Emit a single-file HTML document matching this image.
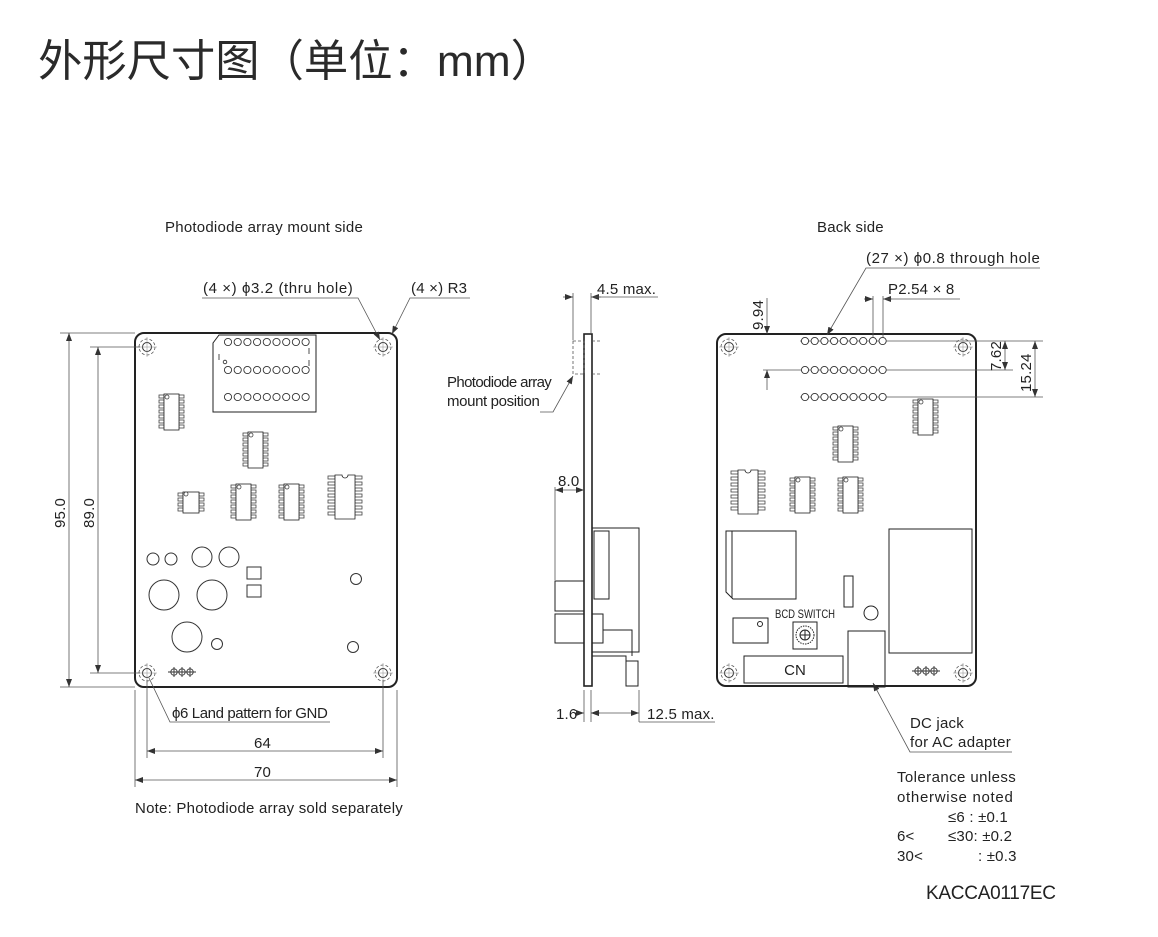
<!DOCTYPE html>
<html><head><meta charset="utf-8"><style>
html,body{margin:0;padding:0;background:#fff;}
svg{display:block;}
text{font-family:"Liberation Sans","DejaVu Sans",sans-serif;fill:#222;}
.t{font-size:15px;letter-spacing:0.2px;}
</style></head><body>
<svg width="1158" height="937" viewBox="0 0 1158 937" xmlns="http://www.w3.org/2000/svg">
<defs>
<marker id="ar" markerWidth="8" markerHeight="6" refX="8" refY="3" orient="auto-start-reverse" markerUnits="userSpaceOnUse"><path d="M0,0 L8,3 L0,6 z" fill="#333"/></marker>
<g id="hole"><circle r="4.5" fill="none" stroke="#333" stroke-width="1"/><circle r="8" fill="none" stroke="#555" stroke-width="0.8" stroke-dasharray="3,2"/><line x1="-10" y1="0" x2="10" y2="0" stroke="#888" stroke-width="0.5"/><line x1="0" y1="-10" x2="0" y2="10" stroke="#888" stroke-width="0.5"/></g>
<g id="soic" stroke="#444" fill="none" stroke-width="0.8">
<rect x="2" y="0" width="5" height="3"/><rect x="2" y="5" width="5" height="3"/><rect x="2" y="10" width="5" height="3"/><rect x="2" y="15" width="5" height="3"/><rect x="2" y="20" width="5" height="3"/><rect x="2" y="25" width="5" height="3"/><rect x="2" y="30" width="5" height="3"/>
<rect x="22" y="0" width="5" height="3"/><rect x="22" y="5" width="5" height="3"/><rect x="22" y="10" width="5" height="3"/><rect x="22" y="15" width="5" height="3"/><rect x="22" y="20" width="5" height="3"/><rect x="22" y="25" width="5" height="3"/><rect x="22" y="30" width="5" height="3"/>
<rect x="7" y="-1" width="15" height="36" fill="#fff" stroke="#222"/><circle cx="10" cy="2" r="2" fill="#fff"/></g>
<g id="so8" stroke="#444" fill="none" stroke-width="0.8">
<rect x="0" y="1" width="5" height="3"/><rect x="0" y="6" width="5" height="3"/><rect x="0" y="11" width="5" height="3"/><rect x="0" y="16" width="5" height="3"/>
<rect x="21" y="1" width="5" height="3"/><rect x="21" y="6" width="5" height="3"/><rect x="21" y="11" width="5" height="3"/><rect x="21" y="16" width="5" height="3"/>
<rect x="5" y="0" width="16" height="21" fill="#fff" stroke="#222"/><circle cx="8" cy="2" r="2" fill="#fff"/></g>
<g id="dip" stroke="#444" fill="none" stroke-width="0.8">
<rect x="0" y="1" width="7" height="3"/><rect x="0" y="7" width="7" height="3"/><rect x="0" y="13" width="7" height="3"/><rect x="0" y="19" width="7" height="3"/><rect x="0" y="25" width="7" height="3"/><rect x="0" y="31" width="7" height="3"/><rect x="0" y="37" width="7" height="3"/>
<rect x="27" y="1" width="7" height="3"/><rect x="27" y="7" width="7" height="3"/><rect x="27" y="13" width="7" height="3"/><rect x="27" y="19" width="7" height="3"/><rect x="27" y="25" width="7" height="3"/><rect x="27" y="31" width="7" height="3"/><rect x="27" y="37" width="7" height="3"/>
<path d="M7,0 H14 A3,3 0 0 0 20,0 H27 V44 H7 Z" fill="#fff" stroke="#222"/></g>
<g id="row9" fill="#fff" stroke="#333" stroke-width="0.9">
<circle cx="0" r="3.6"/><circle cx="9.7" r="3.6"/><circle cx="19.4" r="3.6"/><circle cx="29.1" r="3.6"/><circle cx="38.8" r="3.6"/><circle cx="48.5" r="3.6"/><circle cx="58.2" r="3.6"/><circle cx="67.9" r="3.6"/><circle cx="77.6" r="3.6"/></g>
<g id="gnd" stroke="#333" fill="none" stroke-width="0.9"><line x1="-3" y1="0" x2="25" y2="0"/><circle cx="3" r="3.2"/><circle cx="11" r="3.2"/><circle cx="19" r="3.2"/><line x1="3" y1="-5" x2="3" y2="5"/><line x1="11" y1="-5" x2="11" y2="5"/><line x1="19" y1="-5" x2="19" y2="5"/></g>
</defs>

<text x="38" y="76" font-size="44" textLength="517" lengthAdjust="spacingAndGlyphs" style="font-family:'Liberation Sans','Noto Sans CJK SC',sans-serif;fill:#2a2a2a">外形尺寸图（单位：mm）</text>

<text x="165" y="232" class="t" textLength="198">Photodiode array mount side</text>
<text x="817" y="232" class="t">Back side</text>

<!-- LEFT BOARD -->
<g stroke="#222" fill="none">
<rect x="135" y="333" width="262" height="354" rx="9" stroke-width="2"/>
<path d="M213,412 V343 L219,335 H316 V412 Z" stroke-width="1"/>
<line x1="309" y1="348" x2="309" y2="354" stroke-width="0.8"/><line x1="309" y1="360" x2="309" y2="366" stroke-width="0.8"/>
<line x1="219" y1="354" x2="219" y2="360" stroke-width="0.8"/>
<circle cx="225" cy="362" r="1.8" stroke-width="0.8"/>
</g>
<use href="#row9" x="228" y="342"/><use href="#row9" x="228" y="370"/><use href="#row9" x="228" y="397"/>
<use href="#hole" x="147" y="347"/><use href="#hole" x="383" y="347"/><use href="#hole" x="147" y="673"/><use href="#hole" x="383" y="673"/>
<use href="#soic" x="157" y="395"/>
<use href="#soic" x="241" y="433"/>
<use href="#so8" x="178" y="492"/>
<use href="#soic" x="229" y="485"/>
<use href="#soic" x="277" y="485"/>
<use href="#dip" x="328" y="475"/>
<g stroke="#333" fill="none" stroke-width="1">
<circle cx="153" cy="559" r="6"/><circle cx="171" cy="559" r="6"/>
<circle cx="202" cy="557" r="10"/><circle cx="229" cy="557" r="10"/>
<circle cx="164" cy="595" r="15"/><circle cx="212" cy="595" r="15"/>
<circle cx="187" cy="637" r="15"/><circle cx="217" cy="644" r="5.5"/>
<circle cx="356" cy="579" r="5.5"/><circle cx="353" cy="647" r="5.5"/>
<rect x="247" y="567" width="14" height="12"/><rect x="247" y="585" width="14" height="12"/>
</g>
<use href="#gnd" x="171" y="672"/>

<!-- left dims -->
<g stroke="#555" stroke-width="0.8" fill="none">
<line x1="60" y1="333" x2="135" y2="333"/><line x1="60" y1="687" x2="135" y2="687"/>
<line x1="69" y1="333" x2="69" y2="687" marker-start="url(#ar)" marker-end="url(#ar)"/>
<line x1="90" y1="347" x2="140" y2="347"/><line x1="90" y1="673" x2="140" y2="673"/>
<line x1="98" y1="347" x2="98" y2="673" marker-start="url(#ar)" marker-end="url(#ar)"/>
<line x1="147" y1="680" x2="147" y2="758"/><line x1="383" y1="680" x2="383" y2="758"/>
<line x1="147" y1="751" x2="383" y2="751" marker-start="url(#ar)" marker-end="url(#ar)"/>
<line x1="135" y1="690" x2="135" y2="787"/><line x1="397" y1="690" x2="397" y2="787"/>
<line x1="135" y1="780" x2="397" y2="780" marker-start="url(#ar)" marker-end="url(#ar)"/>
<polyline points="330,722 170,722 149,678" />
<polyline points="202,298 358,298 380,340" marker-end="url(#ar)"/>
<polyline points="470,298 410,298 392,334" marker-end="url(#ar)"/>
</g>
<text class="t" transform="translate(65,528) rotate(-90)">95.0</text>
<text class="t" transform="translate(94,528) rotate(-90)">89.0</text>
<text x="254" y="748" class="t">64</text>
<text x="254" y="777" class="t">70</text>
<text x="172" y="718" class="t" textLength="156">ϕ6 Land pattern for GND</text>
<text x="203" y="293" class="t" textLength="150">(4 ×) ϕ3.2 (thru hole)</text>
<text x="411" y="293" class="t">(4 ×) R3</text>
<text x="135" y="813" class="t" textLength="268">Note: Photodiode array sold separately</text>

<!-- SIDE VIEW -->
<g stroke="#222" fill="none" stroke-width="1">
<rect x="584" y="334" width="8" height="352" stroke-width="1.6"/>
<rect x="592" y="528" width="47" height="124"/>
<rect x="594" y="531" width="15" height="68"/>
<rect x="555" y="581" width="29" height="30"/>
<rect x="555" y="614" width="29" height="29"/>
<rect x="592" y="614" width="11" height="29"/>
<polyline points="603,630 632,630 632,656"/>
<polyline points="592,656 626,656 626,661"/>
<rect x="626" y="661" width="12" height="25"/>
</g>
<g stroke="#555" stroke-width="0.8" fill="none">
<rect x="573" y="341" width="11" height="33" stroke-dasharray="3,2"/>
<line x1="592" y1="341" x2="600" y2="341" stroke-dasharray="3,2"/><line x1="592" y1="374" x2="600" y2="374" stroke-dasharray="3,2"/>
<polyline points="540,412 553,412 573,376" marker-end="url(#ar)"/>
<line x1="573" y1="293" x2="573" y2="340"/><line x1="591" y1="293" x2="591" y2="333"/>
<line x1="563" y1="297" x2="573" y2="297" marker-end="url(#ar)"/><line x1="601" y1="297" x2="591" y2="297" marker-end="url(#ar)"/>
<line x1="591" y1="297" x2="658" y2="297"/>
<line x1="555" y1="487" x2="555" y2="580"/>
<line x1="555" y1="490" x2="584" y2="490" marker-start="url(#ar)" marker-end="url(#ar)"/>
<line x1="584" y1="690" x2="584" y2="722"/><line x1="591" y1="690" x2="591" y2="722"/><line x1="639" y1="690" x2="639" y2="722"/>
<line x1="575" y1="713" x2="584" y2="713" marker-end="url(#ar)"/><line x1="600" y1="713" x2="591" y2="713" marker-end="url(#ar)"/>
<line x1="591" y1="713" x2="639" y2="713" marker-start="url(#ar)" marker-end="url(#ar)"/>
<line x1="639" y1="722" x2="715" y2="722"/>
</g>
<text x="597" y="294" class="t">4.5 max.</text>
<text x="447" y="387" class="t" textLength="105">Photodiode array</text>
<text x="447" y="406" class="t" textLength="93">mount position</text>
<text x="558" y="486" class="t">8.0</text>
<text x="556" y="719" class="t">1.6</text>
<text x="647" y="719" class="t">12.5 max.</text>

<!-- RIGHT BOARD -->
<g stroke="#222" fill="none">
<rect x="717" y="334" width="259" height="352" rx="9" stroke-width="2"/>
</g>
<g stroke="#555" stroke-width="0.8" fill="none">
<line x1="800" y1="341" x2="1013" y2="341"/><line x1="763" y1="370" x2="1013" y2="370"/><line x1="800" y1="397" x2="1043" y2="397"/>
<line x1="1013" y1="341" x2="1043" y2="341"/>
<line x1="767" y1="298" x2="767" y2="334" marker-end="url(#ar)"/>
<line x1="767" y1="390" x2="767" y2="370" marker-end="url(#ar)"/>
<line x1="1005" y1="341" x2="1005" y2="370" marker-start="url(#ar)" marker-end="url(#ar)"/>
<line x1="1035" y1="341" x2="1035" y2="397" marker-start="url(#ar)" marker-end="url(#ar)"/>
<line x1="873" y1="296" x2="873" y2="340"/><line x1="883" y1="296" x2="883" y2="340"/>
<line x1="864" y1="299" x2="873" y2="299" marker-end="url(#ar)"/><line x1="892" y1="299" x2="883" y2="299" marker-end="url(#ar)"/>
<line x1="883" y1="299" x2="960" y2="299"/>
<polyline points="1040,268 866,268 827,335" marker-end="url(#ar)"/>
<polyline points="1012,752 910,752 873,683" marker-end="url(#ar)"/>
</g>
<use href="#row9" x="805" y="341"/><use href="#row9" x="805" y="370"/><use href="#row9" x="805" y="397"/>
<use href="#hole" x="729" y="347"/><use href="#hole" x="963" y="347"/><use href="#hole" x="729" y="673"/><use href="#hole" x="963" y="673"/>
<use href="#soic" x="911" y="400"/>
<use href="#soic" x="831" y="427"/>
<use href="#dip" x="731" y="470"/>
<use href="#soic" x="788" y="478"/>
<use href="#soic" x="836" y="478"/>
<g stroke="#222" fill="none" stroke-width="1">
<path d="M726,531 H796 V599 H733 L726,592 Z"/><line x1="732" y1="531" x2="732" y2="598"/>
<rect x="889" y="529" width="83" height="124"/>
<rect x="844" y="576" width="9" height="31"/>
<circle cx="871" cy="613" r="7"/>
<rect x="733" y="618" width="35" height="25"/><circle cx="760" cy="624" r="2.5"/>
<rect x="793" y="622" width="24" height="27"/><circle cx="805" cy="635" r="9" stroke-dasharray="1.5,1"/><circle cx="805" cy="635" r="5"/><line x1="800" y1="635" x2="810" y2="635"/><line x1="805" y1="630" x2="805" y2="640"/>
<rect x="744" y="656" width="99" height="27"/>
<rect x="848" y="631" width="37" height="56"/>
</g>
<text x="805" y="618" font-size="12" text-anchor="middle" textLength="60" lengthAdjust="spacingAndGlyphs">BCD SWITCH</text>
<text x="795" y="675" font-size="15" text-anchor="middle">CN</text>
<use href="#gnd" x="915" y="671"/>
<text class="t" transform="translate(763,330) rotate(-90)">9.94</text>
<text class="t" transform="translate(1001,371) rotate(-90)">7.62</text>
<text class="t" transform="translate(1031,392) rotate(-90)">15.24</text>
<text x="888" y="294" class="t">P2.54 × 8</text>
<text x="866" y="263" class="t" textLength="174">(27 ×) ϕ0.8 through hole</text>
<text x="910" y="728" class="t">DC jack</text>
<text x="910" y="747" class="t" textLength="101">for AC adapter</text>

<g class="t">
<text x="897" y="782" textLength="119">Tolerance unless</text>
<text x="897" y="802" textLength="116">otherwise noted</text>
<text x="948" y="822">≤6 : ±0.1</text>
<text x="897" y="841">6&lt;</text><text x="948" y="841">≤30: ±0.2</text>
<text x="897" y="861">30&lt;</text><text x="978" y="861">: ±0.3</text>
</g>
<text x="926" y="899" font-size="19" textLength="130">KACCA0117EC</text>
</svg>
</body></html>
